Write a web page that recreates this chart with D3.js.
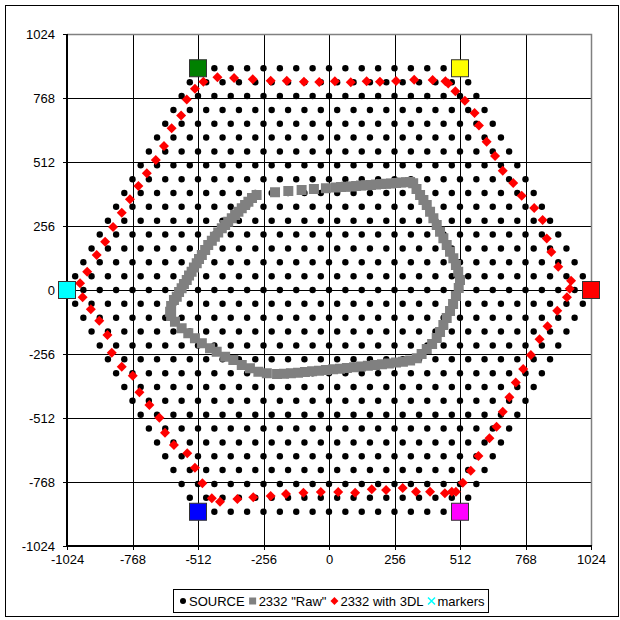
<!DOCTYPE html>
<meta charset="utf-8">
<head>
<style>
  body { margin: 0; background: #fff; }
  text { font-family: "Liberation Sans", Arial, sans-serif; font-size: 13px; fill: #000; }
  .grid line { stroke: #000; stroke-width: 1px; shape-rendering: crispEdges; }
  .axis path { display: none; }
  .axis line { stroke: #000; stroke-width: 1px; shape-rendering: crispEdges; }
</style>
</head>
<body>
<svg width="620" height="620"></svg>
<script src="https://d3js.org/d3.v7.min.js"></script>
<script>
// axis ticks
var ticks = [-1024, -768, -512, -256, 0, 256, 512, 768, 1024];

// SOURCE: hex lattice rows (y of each row, left end of row; rows step 64 in x, symmetric)
var sourceY = [887, 831, 776, 720, 665, 610, 554, 499, 443, 388, 333, 277, 222, 166, 111, 55, 0,
               -55, -111, -166, -222, -277, -333, -388, -443, -499, -554, -610, -665, -720, -776, -831, -887];
var sourceXMin = [-512, -544, -576, -608, -640, -672, -704, -736, -768, -800, -832, -864, -896, -928, -960, -992, -1024,
                  -992, -960, -928, -896, -864, -832, -800, -768, -736, -704, -672, -640, -608, -576, -544, -512];

// 2332 "Raw"
var rawX = [-283, -211, -159, -107, -59, -12,
  27, 47, 66, 86, 106, 125, 145, 164, 184, 203, 223, 242, 262, 281, 301, 317,
  329, 342, 356, 369, 382, 395, 408, 421, 434, 447, 460, 473, 486, 496, 505, 512,
  507, 496, 485, 473, 460, 447, 434, 421, 403, 382, 362, 343,
  317, 289, 262, 234, 207, 180, 152, 125, 98, 70, 43, 16, -12, -39, -66, -94, -121, -149, -176, -203, -243,
  -276, -309, -341, -374, -406, -439, -465, -497, -524, -550, -576, -602, -617, -621, -617, -606, -595,
  -586, -576, -567, -556, -547, -537, -528, -517, -508, -497, -484, -472, -458, -446, -433, -419, -406,
  -394, -380, -367, -354, -341, -328, -315, -301];
var rawY = [380, 391, 396, 400, 404, 407,
  410, 412, 413, 414, 416, 418, 419, 420, 422, 424, 425, 426, 428, 430, 431, 432,
  427, 404, 380, 360, 340, 313, 287, 260, 233, 207, 180, 153, 127, 100, 73, 40,
  8, -24, -56, -84, -112, -140, -168, -192, -216, -236, -256, -273,
  -282, -287, -290, -294, -297, -300, -303, -306, -309, -312, -315, -317, -320, -323, -325, -328, -331, -333, -335, -336, -333,
  -327, -313, -300, -280, -267, -247, -233, -213, -193, -173, -153, -127, -104, -87, -64, -40, -27,
  -8, 7, 24, 40, 58, 73, 90, 107, 124, 140, 160, 180, 197, 213, 230, 247, 260,
  273, 287, 300, 313, 327, 340, 353, 368];

// 2332 with 3DL
var dlX = [-524, -491, -436, -371, -298, -228, -165, -98, -38, 23, 85, 147, 199, 262, 333, 405, 455, 466,
  494, 531, 569, 586, 616, 649, 679, 720, 753, 802, 835, 851, 869, 896, 946, 941, 930, 892, 854, 823,
  789, 759, 730, 705, 679, 655, 627, 584, 554, 523,
  496, 480, 453, 395, 340, 288, 223, 167, 102, 36, -32, -100, -168, -228, -296, -358, -426, -458,
  -495, -524, -554, -606, -641, -663, -702, -741, -767, -810, -849, -866, -898, -931, -963, -973,
  -945, -908, -875, -844, -810, -778, -745, -712, -677, -645, -615, -578, -556];
var dlY = [805, 833, 851, 848, 843, 837, 837, 833, 832, 835, 831, 835, 833, 836, 841, 840, 835, 826,
  795, 757, 708, 658, 593, 536, 477, 428, 377, 328, 280, 206, 152, 93, 37, 5, -29, -83, -145, -197,
  -260, -316, -370, -429, -487, -547, -593, -664, -723, -771,
  -807, -807, -813, -807, -807, -792, -800, -797, -811, -808, -808, -811, -816, -824, -829, -836, -847, -833,
  -773, -711, -653, -620, -571, -511, -460, -409, -343, -307, -251, -180, -123, -77, -29, 27,
  73, 140, 193, 252, 309, 363, 416, 467, 520, 576, 647, 698, 762];

// markers (hexagon corners)
var markerX = [-512, 512, -1024, 1024, -512, 512];
var markerY = [887, 887, 0, 0, -887, -887];
var markerColors = ["#008000", "#ffff00", "#00ffff", "#ff0000", "#0000ff", "#ff00ff"];

var svg = d3.select("svg");

// outer chart frame
svg.append("rect")
    .attr("x", 5.5).attr("y", 5.5)
    .attr("width", 613).attr("height", 611)
    .attr("fill", "#fff").attr("stroke", "#000").attr("stroke-width", 1);

var x = d3.scaleLinear().domain([-1024, 1024]).range([67, 591]);
var y = d3.scaleLinear().domain([-1024, 1024]).range([546, 34]);

// gridlines
var grid = svg.append("g").attr("class", "grid");
grid.selectAll(".v").data(ticks.slice(1, -1)).enter().append("line")
    .attr("x1", function(d) { return Math.round(x(d)) + 0.5; })
    .attr("x2", function(d) { return Math.round(x(d)) + 0.5; })
    .attr("y1", y(1024)).attr("y2", y(-1024));
grid.selectAll(".h").data(ticks.slice(1, -1)).enter().append("line")
    .attr("y1", function(d) { return Math.round(y(d)) + 0.5; })
    .attr("y2", function(d) { return Math.round(y(d)) + 0.5; })
    .attr("x1", x(-1024)).attr("x2", x(1024));

// plot area border: top/right grey
svg.append("path")
    .attr("d", "M" + x(-1024) + "," + (y(1024) + 0.5) + "H" + (x(1024) + 0.5) + "V" + y(-1024))
    .attr("fill", "none").attr("stroke", "#808080").attr("stroke-width", 1.5);

// axes
var fmt = function(d) { return String(d); };
svg.append("g").attr("class", "axis")
    .attr("transform", "translate(0," + y(-1024) + ")")
    .call(d3.axisBottom(x).tickValues(ticks).tickFormat(fmt).tickSize(4).tickSizeOuter(0).tickPadding(5));
svg.append("g").attr("class", "axis")
    .attr("transform", "translate(" + x(-1024) + ",0)")
    .call(d3.axisLeft(y).tickValues(ticks).tickFormat(fmt).tickSize(4).tickSizeOuter(0).tickPadding(8));
svg.selectAll(".axis text").style("font-size", "13px").style("font-family", "Liberation Sans, Arial, sans-serif");

svg.append("line")
    .attr("x1", x(-1024)).attr("x2", x(-1024))
    .attr("y1", y(1024)).attr("y2", y(-1024) + 1)
    .attr("stroke", "#000").attr("stroke-width", 2);
svg.append("line")
    .attr("x1", x(-1024) - 1).attr("x2", x(1024) + 1)
    .attr("y1", y(-1024)).attr("y2", y(-1024))
    .attr("stroke", "#000").attr("stroke-width", 2);

// build source points
var source = [];
sourceY.forEach(function(yy, i) {
    for (var xx = sourceXMin[i]; xx <= -sourceXMin[i]; xx += 64) source.push([xx, yy]);
});

var diamond = function(r) { return "M0," + (-r) + "L" + r + ",0L0," + r + "L" + (-r) + ",0Z"; };

svg.append("g").selectAll("circle").data(source).enter().append("circle")
    .attr("cx", function(d) { return x(d[0]); })
    .attr("cy", function(d) { return y(d[1]); })
    .attr("r", 3.2).attr("fill", "#000");

var sq = 10;
svg.append("g").selectAll("rect").data(rawX).enter().append("rect")
    .attr("x", function(d, i) { return x(rawX[i]) - sq / 2; })
    .attr("y", function(d, i) { return y(rawY[i]) - sq / 2; })
    .attr("width", sq).attr("height", sq)
    .attr("fill", "#808080");

svg.append("g").selectAll("path").data(dlX).enter().append("path")
    .attr("transform", function(d, i) { return "translate(" + x(dlX[i]) + "," + y(dlY[i]) + ")"; })
    .attr("d", diamond(5))
    .attr("fill", "#ff0000");

var ms = 17;
svg.append("g").selectAll("rect").data(markerX).enter().append("rect")
    .attr("x", function(d, i) { return x(markerX[i]) - ms / 2; })
    .attr("y", function(d, i) { return y(markerY[i]) - ms / 2; })
    .attr("width", ms).attr("height", ms)
    .attr("fill", function(d, i) { return markerColors[i]; })
    .attr("stroke", "#333").attr("stroke-width", 1);

// legend
var legend = svg.append("g");
var legendBox = legend.append("rect")
    .attr("y", 589.5).attr("height", 23)
    .attr("fill", "#fff").attr("stroke", "#000").attr("stroke-width", 1);
var items = [
    {name: "SOURCE", type: "dot"},
    {name: "2332 \"Raw\"", type: "square"},
    {name: "2332 with 3DL", type: "diamond"},
    {name: "markers", type: "cross"}
];
var lx = 179, ly = 601;
items.forEach(function(it) {
    var cx = lx + 4;
    if (it.type === "dot") {
        legend.append("circle").attr("cx", cx).attr("cy", ly).attr("r", 3).attr("fill", "#000");
    } else if (it.type === "square") {
        legend.append("rect").attr("x", cx - 3.5).attr("y", ly - 3.5).attr("width", 7).attr("height", 7).attr("fill", "#808080");
    } else if (it.type === "diamond") {
        legend.append("path").attr("transform", "translate(" + cx + "," + ly + ")").attr("d", diamond(4)).attr("fill", "#ff0000");
    } else {
        legend.append("path").attr("transform", "translate(" + cx + "," + ly + ")")
            .attr("d", "M-3.5,-3.5L3.5,3.5M-3.5,3.5L3.5,-3.5")
            .attr("stroke", "#00ffff").attr("stroke-width", 1.5);
    }
    var t = legend.append("text").attr("x", lx + 10).attr("y", ly + 4.5).text(it.name);
    lx = lx + 10 + t.node().getComputedTextLength() + 4;
});
legendBox.attr("x", 173.5).attr("width", lx - 173.5);
</script>
</body>
